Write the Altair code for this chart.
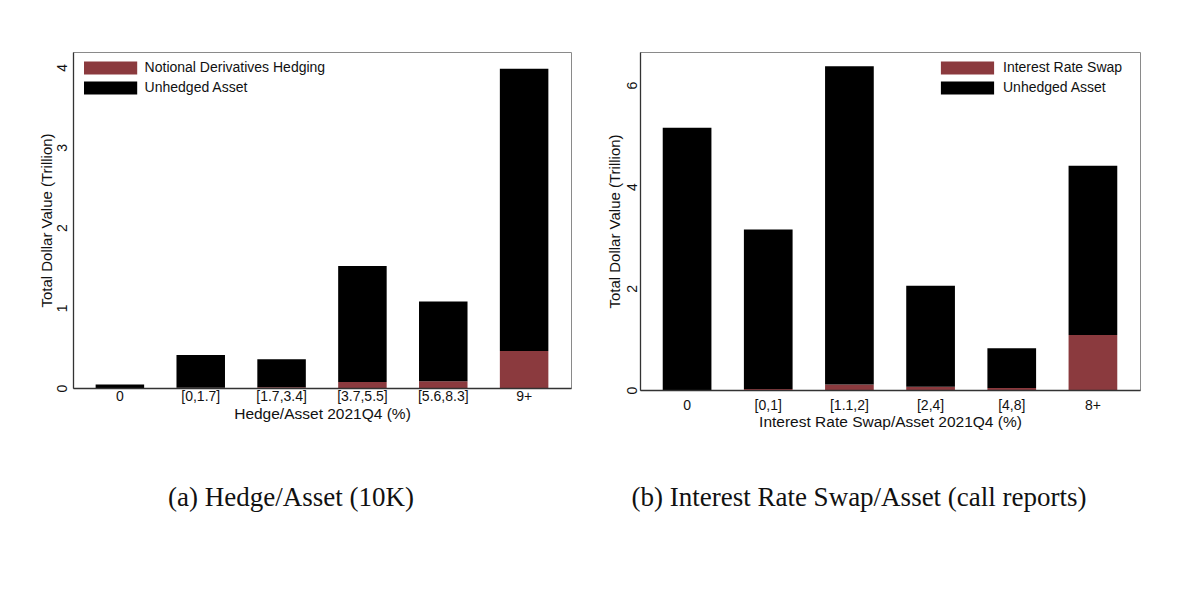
import altair as alt
import pandas as pd

# Panel (a): Hedge/Asset (10K)
cats_a = ["0", "[0,1.7]", "[1.7,3.4]", "[3.7,5.5]", "[5.6,8.3]", "9+"]
hedge_a = [0.0, 0.003, 0.01, 0.075, 0.083, 0.46]
unhedged_a = [0.045, 0.407, 0.35, 1.445, 0.997, 3.52]

# Panel (b): Interest Rate Swap/Asset (call reports)
cats_b = ["0", "[0,1]", "[1.1,2]", "[2,4]", "[4,8]", "8+"]
swap_b = [0.0, 0.02, 0.11, 0.065, 0.04, 1.08]
unhedged_b = [5.16, 3.14, 6.26, 1.985, 0.78, 3.33]

RED = "#8b3a3e"
SANS = "Liberation Sans"
SERIF = "Liberation Serif"
# wide legend swatch: 14px nominal symbol, drawn ~53px wide x 13px tall
SWATCH = "M-3.8,-0.93L3.8,-0.93L3.8,0.93L-3.8,0.93Z"


def panel(cats, hedge, unhedged, hedge_name, xtitle, ymax, yticks, caption,
          width, height, legend_x, legend_y, label_offset,
          xlab_pad, xtitle_pad, ylab_pad, ytitle_pad, cap_offset, cap_dx):
    rows = []
    for c, h, u in zip(cats, hedge, unhedged):
        rows.append({"cat": c, "series": hedge_name, "value": h, "ord": 0})
        rows.append({"cat": c, "series": "Unhedged Asset", "value": u, "ord": 1})
    df = pd.DataFrame(rows)
    return alt.Chart(df).mark_bar().encode(
        x=alt.X("cat:N", sort=cats,
                scale=alt.Scale(paddingInner=0.4, paddingOuter=0.28),
                axis=alt.Axis(title=xtitle, labelAngle=0, ticks=False, tickSize=0,
                              labelPadding=xlab_pad, titlePadding=xtitle_pad,
                              labelFont=SANS, labelFontSize=14, labelColor="#111",
                              titleFont=SANS, titleFontSize=15.5, titleFontWeight="normal",
                              titleColor="#111", domainColor="#333", domainWidth=1.3,
                              zindex=1)),
        y=alt.Y("value:Q", stack="zero",
                scale=alt.Scale(domain=[0, ymax], nice=False, zero=True),
                axis=alt.Axis(title="Total Dollar Value (Trillion)", values=yticks,
                              grid=False, ticks=False, tickSize=0, labelAngle=270,
                              labelAlign="center", labelBaseline="bottom",
                              labelPadding=ylab_pad, titlePadding=ytitle_pad,
                              labelFont=SANS, labelFontSize=14, labelColor="#111",
                              titleFont=SANS, titleFontSize=15, titleFontWeight="normal",
                              titleColor="#111", domainColor="#333", domainWidth=1.3,
                              zindex=1)),
        color=alt.Color("series:N",
                        scale=alt.Scale(domain=[hedge_name, "Unhedged Asset"],
                                        range=[RED, "#000000"]),
                        legend=alt.Legend(title=None, orient="none",
                                          legendX=legend_x, legendY=legend_y,
                                          padding=0,
                                          symbolType=SWATCH, symbolSize=196,
                                          symbolStrokeWidth=0, symbolOpacity=1,
                                          rowPadding=6, labelOffset=label_offset,
                                          labelFont=SANS, labelFontSize=14,
                                          labelColor="#111", labelLimit=400)),
        order=alt.Order("ord:Q", sort="ascending"),
    ).properties(
        width=width, height=height,
        title=alt.TitleParams(caption, orient="bottom", anchor="middle",
                              font=SERIF, fontSize=27, fontWeight="normal",
                              color="#111", offset=cap_offset, dx=cap_dx),
    )


left = panel(cats_a, hedge_a, unhedged_a, "Notional Derivatives Hedging",
             "Hedge/Asset 2021Q4 (%)", 4.19, [0, 1, 2, 3, 4],
             "(a) Hedge/Asset (10K)", 498, 336,
             30.6, 9, 27, 1.5, 3, 3.5, 1, 63, -31)
right = panel(cats_b, swap_b, unhedged_b, "Interest Rate Swap",
              "Interest Rate Swap/Asset 2021Q4 (%)", 6.65, [0, 2, 4, 6],
              "(b) Interest Rate Swap/Asset (call reports)", 500, 338,
              320.5, 9, 28.5, 8, 2.5, 1, 3, 55, -31)

chart = alt.hconcat(left, right, spacing=34).resolve_scale(
    x="independent", y="independent", color="independent"
).resolve_legend(color="independent").properties(
    padding={"left": 39, "top": 51, "right": 5, "bottom": 5},
    background="white",
).configure_view(stroke="#8a8a8a", strokeWidth=1)

chart.save("out.html", embed_options={"renderer": "svg", "actions": False})
